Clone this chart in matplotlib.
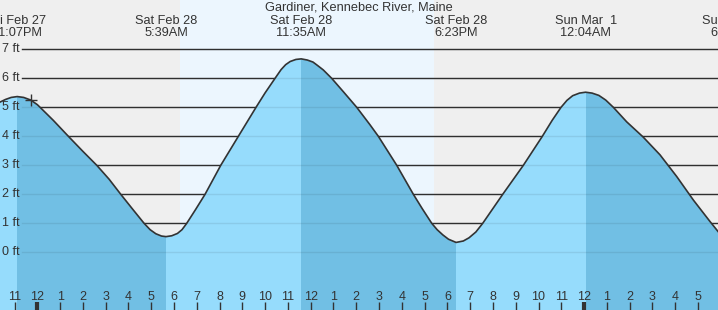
import matplotlib
matplotlib.use("Agg")
import matplotlib.pyplot as plt
import matplotlib.transforms as mtransforms

plt.rcParams['font.family'] = ['Liberation Sans', 'DejaVu Sans']

# 資料：時間以 2/28 午夜起算的小時數
title = "Gardiner, Kennebec River, Maine"
tide_hours = [-0.883, 5.65, 11.583, 18.383, 24.067, 30.52]
tide_days = ["Fri Feb 27", "Sat Feb 28", "Sat Feb 28", "Sat Feb 28", "Sun Mar  1", "Sun Mar  1"]
tide_clock = ["11:07PM", "5:39AM", "11:35AM", "6:23PM", "12:04AM", "6:31AM"]

curve_hours = [-1.64, -1.4, -1.15, -0.883, -0.6, -0.29, 0.0, 0.119, 0.7, 1.361,
               2.0, 2.608, 3.15, 3.661, 4.2, 4.684, 4.95, 5.2, 5.45, 5.65,
               5.9, 6.15, 6.35, 6.558, 6.95, 7.362, 8.051, 8.824, 9.6, 10.0,
               10.435, 10.7, 10.9, 11.1, 11.35, 11.583, 11.85, 12.1, 12.27, 12.55,
               12.92, 13.43, 14.02, 14.6, 14.969, 15.777, 16.506, 16.9, 17.313, 17.55,
               17.8, 18.05, 18.383, 18.7, 18.95, 19.25, 19.552, 20.43, 21.335, 22.169,
               22.6, 22.99, 23.25, 23.5, 23.8, 24.067, 24.35, 24.65, 24.95, 25.285,
               25.87, 26.6, 27.335, 28.07, 28.8, 29.53, 29.92]
curve_feet = [5.18, 5.27, 5.34, 5.37, 5.34, 5.25, 5.09, 5.0, 4.55, 4.0,
              3.48, 3.0, 2.52, 2.0, 1.47, 1.0, 0.78, 0.64, 0.56, 0.54,
              0.57, 0.65, 0.78, 1.0, 1.48, 2.0, 3.0, 4.0, 5.0, 5.5,
              6.0, 6.3, 6.47, 6.58, 6.65, 6.67, 6.63, 6.56, 6.46, 6.29,
              6.0, 5.54, 5.0, 4.4, 4.0, 3.0, 2.0, 1.5, 1.0, 0.78,
              0.6, 0.45, 0.34, 0.39, 0.5, 0.7, 1.0, 2.0, 3.0, 4.0,
              4.55, 5.0, 5.24, 5.4, 5.49, 5.52, 5.49, 5.41, 5.25, 5.0,
              4.5, 3.97, 3.36, 2.61, 1.8, 1.06, 0.68]

sunrise, sunset = 6.26, 17.41
now_hour, now_feet = -0.29, 5.25

hour_ticks = list(range(-1, 30))
hour_labels = [str((h % 12) or 12) for h in hour_ticks]
ft_ticks = list(range(0, 8))

fig = plt.figure(figsize=(7.18, 3.10), dpi=100)
ax = fig.add_axes([0, 0, 1, 1])
ax.set_xlim(-1.64, 29.88)
ax.set_ylim(-1.99, 8.70)
ax.set_facecolor('#efefef')
for s in ax.spines.values():
    s.set_visible(False)

# 白天背景
ax.axvspan(sunrise, sunset, color='#ecf6fe', lw=0, zorder=0)

# 格線
for f in ft_ticks:
    ax.axhline(f, xmin=22 / 718, color='#333333', lw=1.0, zorder=1)

# 潮位填色：漲潮淺藍、退潮深藍
poly = ax.fill_between(curve_hours, -3, curve_feet, color='#96dcfc', lw=0, zorder=2)
clip = poly.get_paths()[0]
for a, b in zip(tide_hours[0::2], tide_hours[1::2]):
    span = ax.axvspan(a, b, color='#71bfe4', lw=0, zorder=2.5)
    span.set_clip_path(clip, ax.transData)

for f in ft_ticks:
    ax.axhline(f, xmin=22 / 718, color='black', alpha=0.08, lw=1.0, zorder=3)

ax.plot(curve_hours, curve_feet, color='#333333', lw=1.2, zorder=4)
ax.plot(now_hour, now_feet, '+', color='#333333', ms=9, mew=1, zorder=5)

# 左側刻度文字
ytrans = mtransforms.blended_transform_factory(ax.transAxes, ax.transData)
for f in ft_ticks:
    ax.text(20 / 718, f, f"{f} ft", ha='right', va='center', transform=ytrans,
            fontsize=9, color='#333333')

# 下方小時刻度
ax.set_yticks([])
ax.set_xticks(hour_ticks, hour_labels)
ax.tick_params(axis='x', direction='in', length=6, width=1, color='#333333',
               labelcolor='#333333', labelsize=9, pad=-14)
ax.xaxis.set_zorder(6)
for tick, h in zip(ax.xaxis.get_major_ticks(), hour_ticks):
    if h % 24 == 0:
        tick.tick1line.set_markeredgewidth(3)

# 上方標題與潮汐時間
fig.text(0.5, 1 - 10.7 / 310, title, ha='center', va='baseline', fontsize=9.2, color='#333333')
xtrans = mtransforms.blended_transform_factory(ax.transData, fig.transFigure)
for t, d, c in zip(tide_hours, tide_days, tide_clock):
    ax.text(t, 1 - 24 / 310, d, ha='center', va='baseline', transform=xtrans,
            fontsize=9.2, color='#333333')
    ax.text(t, 1 - 36 / 310, c, ha='center', va='baseline', transform=xtrans,
            fontsize=9.2, color='#333333')

fig.savefig("out.png", dpi=100)
